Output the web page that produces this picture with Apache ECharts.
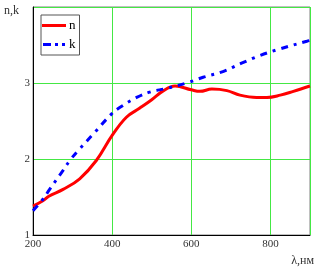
<!DOCTYPE html>
<html>
<head>
<meta charset="utf-8">
<script src="https://cdn.jsdelivr.net/npm/echarts@6/dist/echarts.min.js"></script>
<style>
  html, body { margin: 0; padding: 0; background: #fff; }
  #chart { width: 321px; height: 273px; }
</style>
</head>
<body>
<div id="chart"></div>
<script>
// n (red, solid)
let nLambda = [200, 225, 240, 276, 318, 360, 400, 436, 470, 500, 530, 559, 600, 622, 652, 690, 723, 765, 791, 825, 858, 900];
let nValues = [1.38, 1.45, 1.51, 1.60, 1.74, 1.98, 2.31, 2.55, 2.67, 2.78, 2.90, 2.96, 2.91, 2.89, 2.92, 2.90, 2.84, 2.81, 2.81, 2.84, 2.89, 2.96];

// k (blue, dash-dot)
let kLambda = [200, 225, 242, 276, 293, 314, 356, 398, 420, 462, 495, 538, 588, 630, 680, 727, 773, 825, 892, 900];
let kValues = [1.32, 1.47, 1.60, 1.85, 1.98, 2.11, 2.35, 2.59, 2.68, 2.81, 2.88, 2.93, 3.00, 3.075, 3.15, 3.26, 3.36, 3.45, 3.55, 3.56];

let xTicks = [200, 400, 600, 800];
let yTicks = [1, 2, 3];

function pairs(xs, ys) {
    let out = [];
    xs.forEach((x, i) => { out.push([x, ys[i]]); });
    return out;
}

let myChart = echarts.init(document.getElementById('chart'));
let serif = '"Liberation Serif", "DejaVu Serif", serif';

let option = {
    animation: false,
    grid: {
        left: 33, right: 11, top: 7, bottom: 38,
        show: true, borderColor: '#808080', borderWidth: 1
    },
    legend: {
        orient: 'vertical',
        left: 41, top: 15,
        padding: [4, 4, 4, 1],
        itemGap: 6,
        itemWidth: 24, itemHeight: 3,
        borderColor: '#555', borderWidth: 1,
        backgroundColor: '#fff',
        textStyle: { fontFamily: serif, fontSize: 13, color: '#000', padding: [0, 0, 2, -2] },
        data: [
            { name: 'n', icon: 'path://M0,0h24v3h-24z' },
            { name: 'k', icon: 'path://M0,0h8v3h-8z M12,0h3v3h-3z M19,0h3v3h-3z' }
        ]
    },
    xAxis: {
        type: 'value', min: 200, max: 900, interval: 200,
        axisLine: { lineStyle: { color: '#000', width: 1 } },
        axisTick: { show: false },
        splitLine: { lineStyle: { color: '#44e844', width: 1 } },
        axisLabel: {
            fontFamily: serif, fontSize: 11, color: '#333', margin: 4,
            showMaxLabel: false,
            formatter: function (v) { return xTicks.indexOf(v) >= 0 ? v : ''; }
        }
    },
    yAxis: {
        type: 'value', min: 1, max: 4, interval: 1,
        axisLine: { show: true, lineStyle: { color: '#000', width: 1 } },
        axisTick: { show: false },
        splitLine: { lineStyle: { color: '#44e844', width: 1 } },
        axisLabel: {
            fontFamily: serif, fontSize: 11, color: '#333', margin: 3,
            showMaxLabel: false,
            formatter: function (v) { return yTicks.indexOf(v) >= 0 ? v : ''; }
        }
    },
    graphic: [
        { type: 'text', left: 4, top: 5, style: { text: 'n,k', font: '12px ' + serif, fill: '#333' } },
        { type: 'text', right: 7, top: 255, style: { text: 'λ,нм', font: '12px ' + serif, fill: '#333' } }
    ],
    series: [
        {
            name: 'n', type: 'line', smooth: 0.4, symbol: 'none',
            lineStyle: { color: '#ff0000', width: 3 },
            itemStyle: { color: '#ff0000' },
            data: pairs(nLambda, nValues)
        },
        {
            name: 'k', type: 'line', smooth: 0.4, symbol: 'none',
            lineStyle: { color: '#0000ff', width: 3, type: [7, 6, 3, 6] },
            itemStyle: { color: '#0000ff' },
            data: pairs(kLambda, kValues)
        }
    ]
};

myChart.setOption(option);
</script>
</body>
</html>
